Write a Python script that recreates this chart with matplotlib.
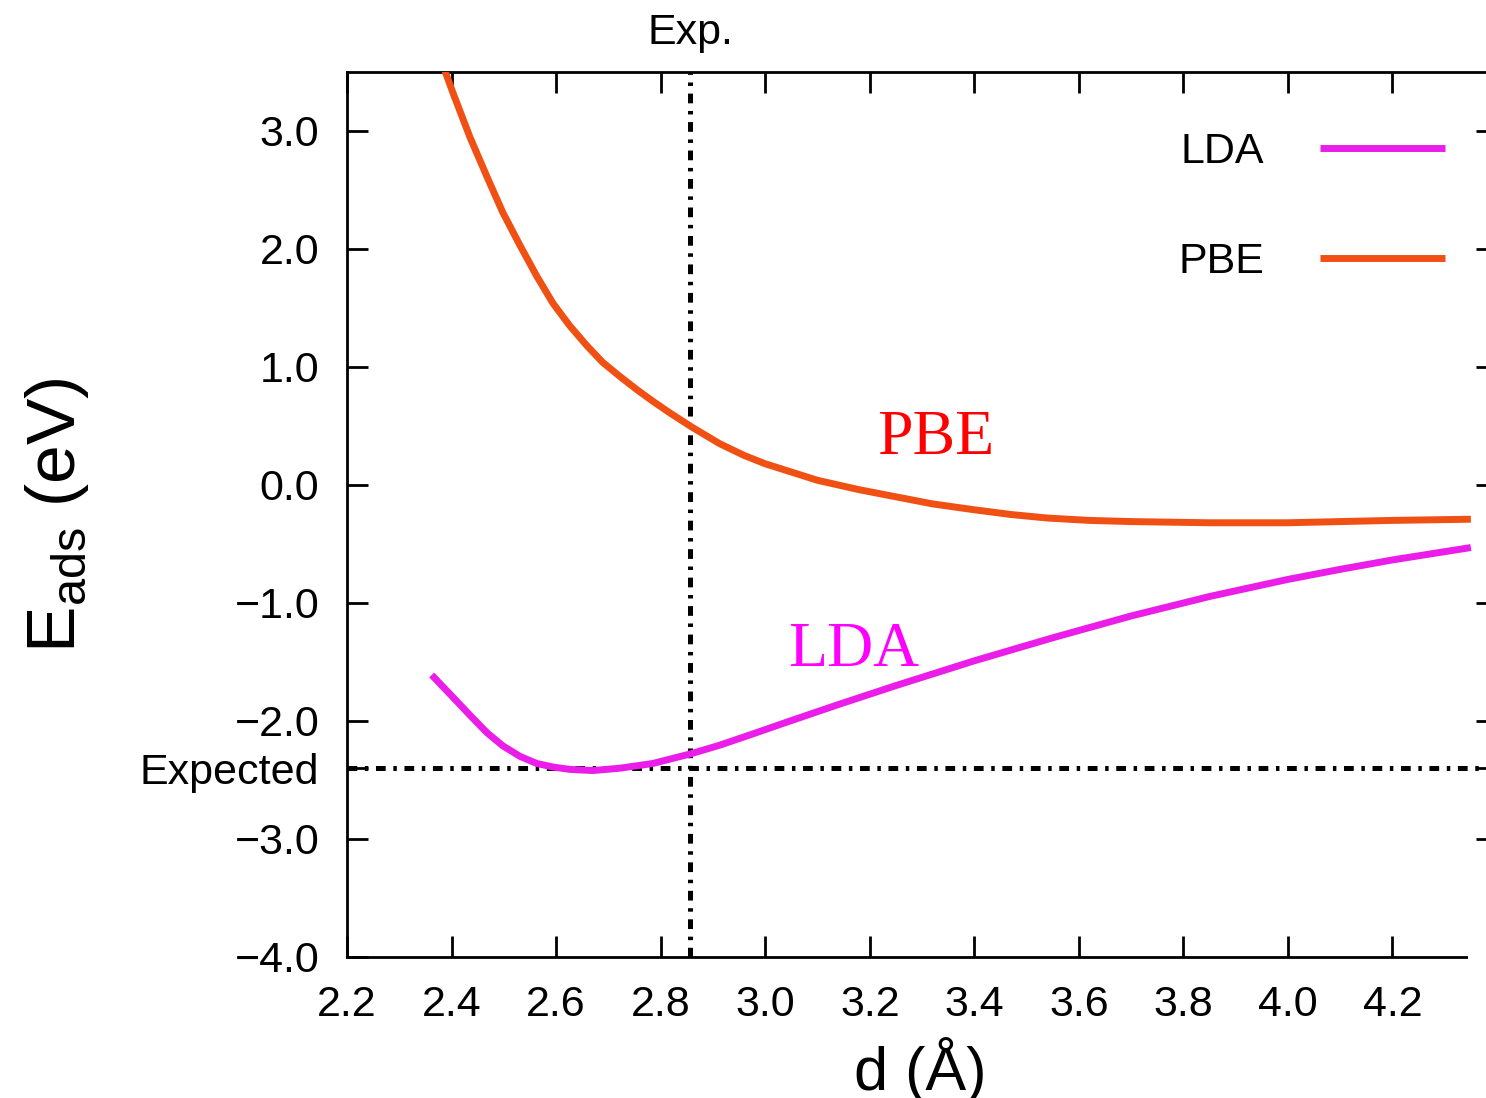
import matplotlib
matplotlib.use("Agg")
import matplotlib.pyplot as plt
from matplotlib.patches import Rectangle

# ---- data ----
lda_d = [2.362, 2.403, 2.435, 2.468, 2.498, 2.531, 2.563, 2.594, 2.626, 2.670, 2.722,
         2.785, 2.856, 2.913, 2.976, 3.041, 3.137, 3.25, 3.40, 3.55, 3.70, 3.85,
         4.00, 4.10, 4.20, 4.35]
lda_e = [-1.61, -1.80, -1.95, -2.10, -2.21, -2.30, -2.36, -2.39, -2.41, -2.42, -2.40,
         -2.36, -2.28, -2.205, -2.11, -2.01, -1.865, -1.70, -1.49, -1.295, -1.11, -0.945,
         -0.80, -0.715, -0.635, -0.53]

pbe_d = [2.380, 2.403, 2.435, 2.468, 2.498, 2.531, 2.563, 2.594, 2.626, 2.659, 2.689,
         2.722, 2.754, 2.785, 2.818, 2.860, 2.913, 2.96, 3.00, 3.05, 3.10, 3.18, 3.25,
         3.32, 3.40, 3.47, 3.54, 3.62, 3.70, 3.85, 4.00, 4.20, 4.35]
pbe_e = [3.60, 3.32, 2.95, 2.61, 2.31, 2.03, 1.77, 1.54, 1.35, 1.18, 1.04,
         0.92, 0.81, 0.71, 0.61, 0.49, 0.35, 0.25, 0.18, 0.11, 0.04, -0.04, -0.10,
         -0.16, -0.21, -0.25, -0.28, -0.30, -0.31, -0.32, -0.32, -0.30, -0.29]

exp_d = 2.857
expected_e = -2.4

xticks = [2.2, 2.4, 2.6, 2.8, 3.0, 3.2, 3.4, 3.6, 3.8, 4.0, 4.2, 4.4]
yticks = [-4.0, -3.0, -2.0, -1.0, 0.0, 1.0, 2.0, 3.0]

plt.rcParams['font.family'] = ['Liberation Sans', 'DejaVu Sans']
plt.rcParams['lines.scale_dashes'] = False

fig = plt.figure(figsize=(14.86, 10.98), dpi=100)
ax = fig.add_axes([347/1486, (1098-957)/1098, 1150/1486, 885/1098])

lda_c = '#ea1ee8'
pbe_c = '#f05014'

ax.plot(lda_d, lda_e, color=lda_c, lw=5, label='LDA', solid_capstyle='butt',
        solid_joinstyle='round', zorder=3)
ax.plot(pbe_d, pbe_e, color=pbe_c, lw=5, label='PBE', solid_capstyle='butt',
        solid_joinstyle='round', zorder=3)

dd = (0, (7, 5.5, 2.5, 5.5))
ax.axvline(exp_d, color='black', lw=3.6, linestyle=dd, zorder=2)
ax.axhline(expected_e, color='black', lw=3.6, linestyle=dd, zorder=2)

ax.set_xlim(2.2, 4.4)
ax.set_ylim(-4.0, 3.5)

ax.set_xticks(xticks)
ax.set_xticklabels([f'{v:.1f}' for v in xticks])
yt = yticks + [expected_e]
ylabels = [(f'{v:.1f}').replace('-', '\u2212') for v in yticks] + ['Expected']
ax.set_yticks(yt)
ax.set_yticklabels(ylabels)

ax.tick_params(axis='both', which='major', direction='in', length=15, width=2,
               labelsize=31, top=True, right=True)
ax.tick_params(axis='x', pad=20)
ax.tick_params(axis='y', pad=20)
for s in ax.spines.values():
    s.set_linewidth(2)

# top label for experimental distance
ax.annotate('Exp.', xy=(exp_d, 1.0), xycoords=('data', 'axes fraction'),
            xytext=(0, 14), textcoords='offset points', ha='center', va='bottom',
            fontsize=31)

# in-plot serif labels
ax.text(3.215, 0.26, 'PBE', color='#ff0000', fontsize=46, family='Liberation Serif',
        ha='left', va='baseline')
ax.text(3.043, -1.53, 'LDA', color='#ff00ff', fontsize=46, family='Liberation Serif',
        ha='left', va='baseline')

leg = ax.legend(loc='upper right', bbox_to_anchor=((1445-347)/1150, (957-132)/885),
                frameon=False, markerfirst=False, fontsize=31, handlelength=2.9,
                handletextpad=1.3, labelspacing=1.62, borderpad=0, borderaxespad=0)

fig.text(920/1486, 1 - 1090/1098, 'd (Å)', fontsize=44, ha='center', va='baseline')
fig.text(57/1486, 1 - 515/1098, r'E$_{\mathregular{ads}}$ (eV)', fontsize=50,
         rotation=90, ha='center', va='center')

# white patch covering bottom-right corner (as in the reference crop)
fig.patches.append(Rectangle((1468/1486, 0), 1, (1098-955)/1098, transform=fig.transFigure,
                             facecolor='white', edgecolor='none', zorder=10))

fig.savefig('out.png', dpi=100)
